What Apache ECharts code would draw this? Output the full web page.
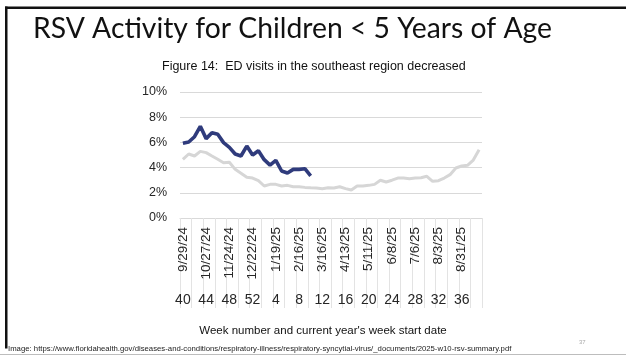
<!DOCTYPE html>
<html><head><meta charset="utf-8">
<script src="https://cdn.jsdelivr.net/npm/echarts@6/dist/echarts.min.js"></script>
<style>html,body{margin:0;padding:0;background:#fff}#c{width:626px;height:356px}</style>
</head><body><div id="c"></div>
<script>
// Week numbers (category axis, second label row)
const weekNumbers = [40,41,42,43,44,45,46,47,48,49,50,51,52,
  1,2,3,4,5,6,7,8,9,10,11,12,13,14,15,16,17,18,19,20,21,22,23,24,25,26,27,28,29,30,31,32,33,34,35,36,37,38,39];
// Current year's week start dates (category axis, first label row)
const weekStartDates = ['9/29/24','10/6/24','10/13/24','10/20/24','10/27/24','11/3/24','11/10/24','11/17/24',
  '11/24/24','12/1/24','12/8/24','12/15/24','12/22/24','12/29/24','1/5/25','1/12/25','1/19/25','1/26/25',
  '2/2/25','2/9/25','2/16/25','2/23/25','3/2/25','3/9/25','3/16/25','3/23/25','3/30/25','4/6/25','4/13/25',
  '4/20/25','4/27/25','5/4/25','5/11/25','5/18/25','5/25/25','6/1/25','6/8/25','6/15/25','6/22/25','6/29/25',
  '7/6/25','7/13/25','7/20/25','7/27/25','8/3/25','8/10/25','8/17/25','8/24/25','8/31/25','9/7/25','9/14/25','9/21/25'];
// Current season (dark blue), % of ED visits
const currentSeason = [5.93,6.03,6.45,7.28,6.3,6.77,6.64,5.98,5.61,5.08,4.92,5.71,5.0,5.34,4.63,4.2,4.57,3.73,3.57,3.86,3.86,3.91,3.34];
// Previous season (light gray), % of ED visits
const previousSeason = [4.66,5.08,4.92,5.29,5.19,4.92,4.66,4.39,4.42,3.86,3.55,3.23,3.17,2.96,2.54,2.67,2.67,2.54,2.59,2.48,
  2.48,2.43,2.4,2.38,2.33,2.4,2.38,2.48,2.33,2.22,2.54,2.54,2.59,2.67,3.0,2.86,3.0,3.17,3.17,3.12,3.17,3.2,3.31,2.91,2.96,
  3.17,3.44,3.97,4.13,4.18,4.6,5.42];
const yTickValues = [0,2,4,6,8,10];

const chart = echarts.init(document.getElementById('c'), null, {renderer:'canvas'});
const lab = '#262626';
chart.setOption({
  animation:false,
  backgroundColor:'#fff',
  grid:{left:180,right:144,top:92,bottom:138,containLabel:false},
  xAxis:[{
    type:'category', data:weekStartDates, boundaryGap:true,
    axisLine:{show:true,lineStyle:{color:'#d9d9d9',width:1}},
    axisTick:{show:true,interval:1,length:90,lineStyle:{color:'#e3e3e3',width:1}},
    axisLabel:{interval:3,rotate:90,margin:9,fontSize:13.5,color:lab,fontFamily:'Liberation Sans'},
    splitLine:{show:false}
  },{
    type:'category', data:weekNumbers, boundaryGap:true, position:'bottom', offset:0,
    axisLine:{show:false}, axisTick:{show:false},
    axisLabel:{interval:3,margin:75,fontSize:14,color:lab,fontFamily:'Liberation Sans'},
    splitLine:{show:false}
  }],
  yAxis:{
    type:'value', min:yTickValues[0], max:yTickValues[yTickValues.length-1], interval:2,
    axisLine:{show:false}, axisTick:{show:false},
    axisLabel:{formatter:'{value}%',margin:13,fontSize:12.5,color:lab,fontFamily:'Liberation Sans'},
    splitLine:{lineStyle:{color:'#d9d9d9',width:1}}
  },
  series:[{
    name:'Previous season', type:'line', data:previousSeason, xAxisIndex:0,
    symbol:'none', lineStyle:{color:'#d6d6d6',width:3}, z:2
  },{
    name:'Current season', type:'line', data:currentSeason, xAxisIndex:0,
    symbol:'none', lineStyle:{color:'#2f3b7c',width:3.6}, z:3
  }],
  graphic:[
    {type:'rect',shape:{x:5,y:6.5,width:621,height:2.5},style:{fill:'#111'},silent:true},
    {type:'rect',shape:{x:5,y:6.5,width:2.5,height:342},style:{fill:'#111'},silent:true},
    {type:'line',shape:{x1:0,y1:354.5,x2:626,y2:354.5},style:{stroke:'#bdbdbd',lineWidth:1},silent:true},
    {type:'text',left:33,top:15,style:{text:'RSV Activity for Children < 5 Years of Age',font:'28.3px Lato',fill:'#111'}},
    {type:'text',left:162,top:60,style:{text:'Figure 14:  ED visits in the southeast region decreased',font:'12.5px "Liberation Sans"',fill:'#111'}},
    {type:'text',x:323,y:325,style:{text:"Week number and current year's week start date",font:'11.5px "Liberation Sans"',fill:'#111',textAlign:'center'}},
    {type:'text',left:8,top:345,style:{text:'Image: https://www.floridahealth.gov/diseases-and-conditions/respiratory-illness/respiratory-syncytial-virus/_documents/2025-w10-rsv-summary.pdf',font:'7.75px "Liberation Sans"',fill:'#222'}},
    {type:'text',left:579,top:339,style:{text:'37',font:'6px "Liberation Sans"',fill:'#aaa'}}
  ]
});
</script></body></html>
